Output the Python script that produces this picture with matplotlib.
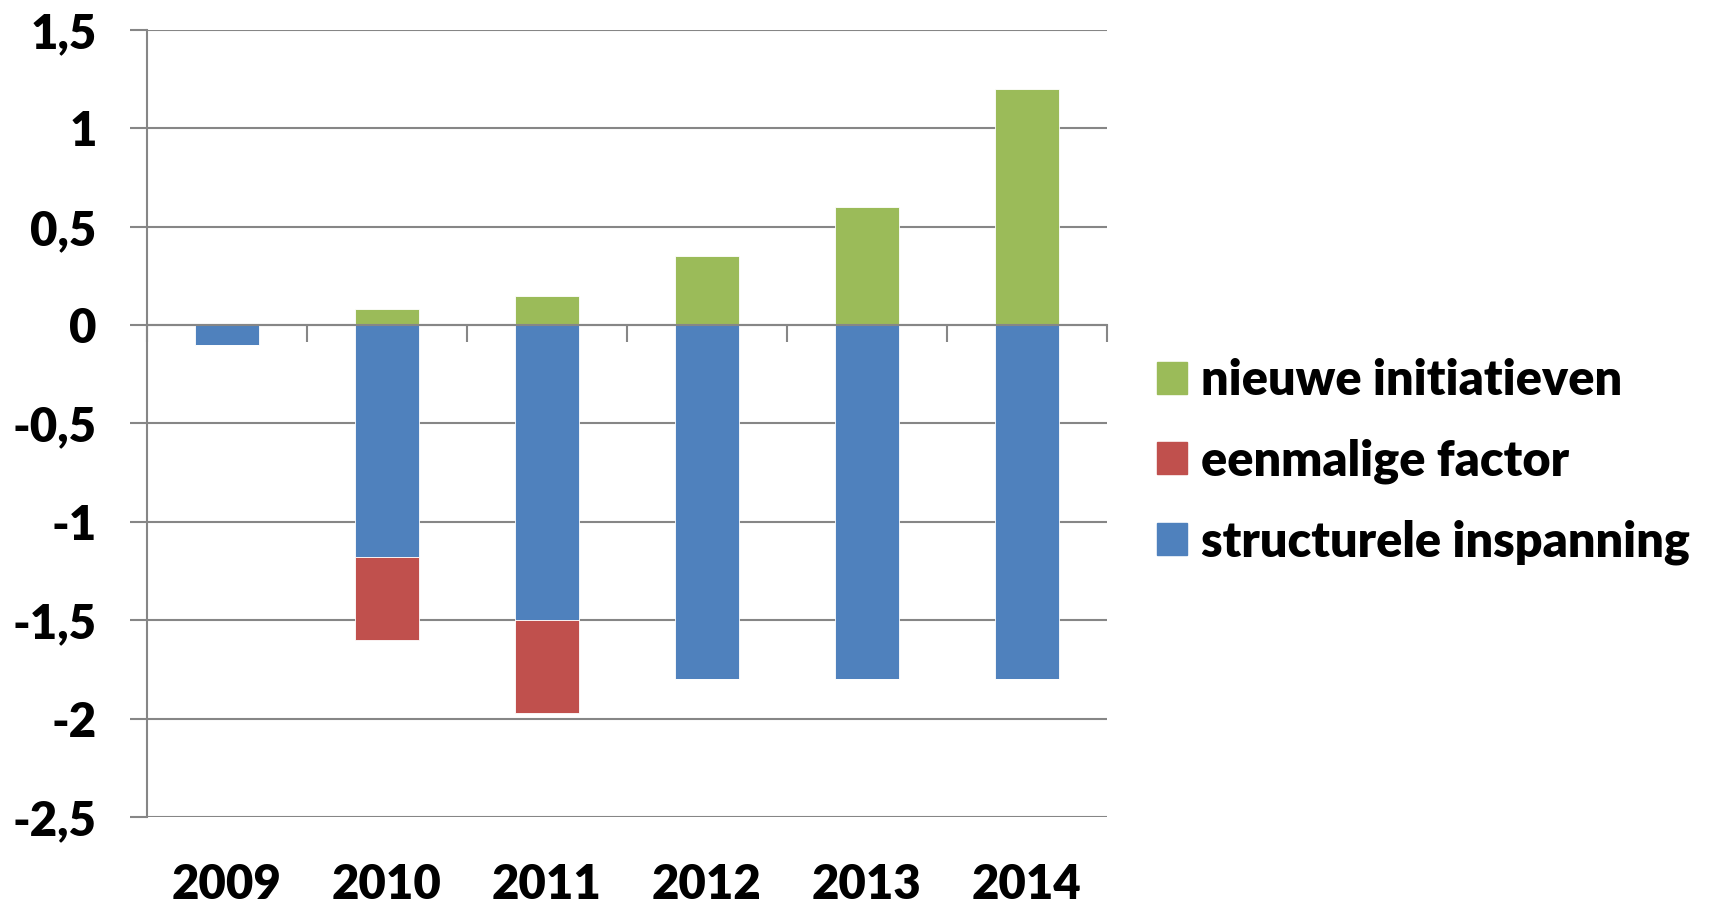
import numpy as np
import matplotlib
matplotlib.use("Agg")
import matplotlib.pyplot as plt
from matplotlib.ticker import FixedLocator, FuncFormatter
from matplotlib.patches import Patch

years = ["2009", "2010", "2011", "2012", "2013", "2014"]
structureel = [-0.10, -1.18, -1.50, -1.80, -1.80, -1.80]
eenmalig = [0.0, -0.42, -0.47, 0.0, 0.0, 0.0]
nieuw = [0.0, 0.08, 0.15, 0.35, 0.60, 1.20]
labels = ["nieuwe initiatieven", "eenmalige factor", "structurele inspanning"]

C = dict(blue="#4F81BD", red="#C0504D", green="#9BBB59", grid="#868686")

plt.rcParams.update({"font.family": ["Lato", "DejaVu Sans"], "font.weight": "heavy"})

fig = plt.figure(figsize=(17.16, 9.08), dpi=100)
ax = fig.add_axes([0.0855, 0.1002, 0.5596, 0.8668])
x = np.arange(len(years))
w = 0.4
kw = dict(width=w, edgecolor="white", linewidth=0.6, zorder=3)
ax.bar(x, structureel, color=C["blue"], **kw)
ax.bar(x, eenmalig, bottom=structureel, color=C["red"], **kw)
ax.bar(x, nieuw, color=C["green"], **kw)

ax.set_xlim(-0.5, len(years) - 0.5)
ax.set_ylim(-2.5, 1.5)
ax.yaxis.set_major_locator(FixedLocator(np.arange(-2.5, 1.51, 0.5)))
ax.yaxis.set_major_formatter(FuncFormatter(lambda v, p: f"{v:g}".replace(".", ",")))
ax.grid(axis="y", color=C["grid"], linewidth=1.5, zorder=1)
ax.tick_params(axis="y", length=12, width=1.5, color=C["grid"], pad=24, labelsize=34)

for s in ["top", "right"]:
    ax.spines[s].set_visible(False)
ax.spines["left"].set_color(C["grid"])
ax.spines["left"].set_linewidth(1.5)
ax.spines["bottom"].set_position(("data", 0))
ax.spines["bottom"].set_color(C["grid"])
ax.spines["bottom"].set_linewidth(1.5)
ax.spines["bottom"].set_zorder(4)
ax.xaxis.set_major_locator(FixedLocator(x))
ax.xaxis.set_minor_locator(FixedLocator(np.arange(len(years) + 1) - 0.5))
ax.tick_params(axis="x", which="major", length=0, labelbottom=False)
ax.tick_params(axis="x", which="minor", length=12, width=1.5, color=C["grid"])

sec = ax.secondary_xaxis("bottom")
sec.set_xticks(x)
sec.set_xticklabels(years)
sec.tick_params(length=0, pad=33, labelsize=34)
sec.spines["bottom"].set_visible(False)

handles = [Patch(color=C["green"]), Patch(color=C["red"]), Patch(color=C["blue"])]
fig.legend(handles, labels, loc="center left", bbox_to_anchor=(0.674, 0.492),
           frameon=False, fontsize=35, handlelength=0.63, handleheight=0.63,
           handletextpad=0.29, labelspacing=0.73, borderaxespad=0, borderpad=0)

fig.savefig("out.png", dpi=100)
